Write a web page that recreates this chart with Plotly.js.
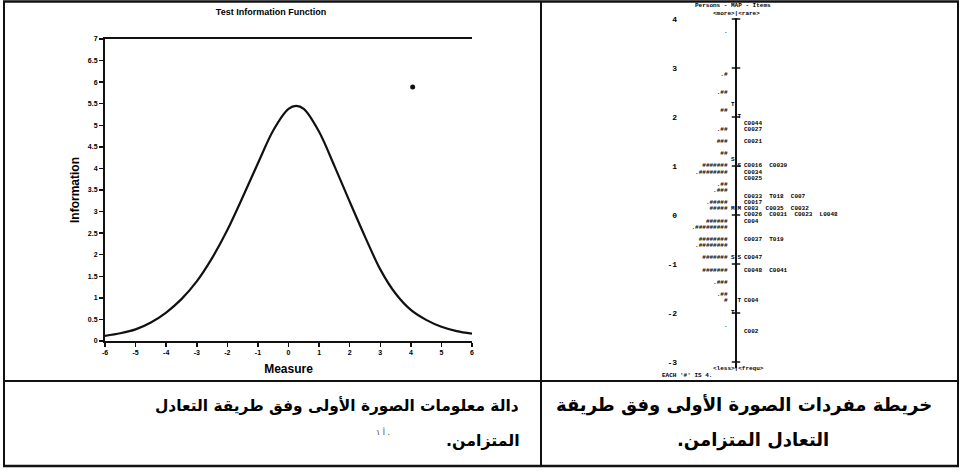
<!DOCTYPE html>
<html><head><meta charset="utf-8">
<script src="https://cdn.plot.ly/plotly-3.0.1.min.js"></script>
<style>html,body{margin:0;padding:0;background:#fff;}#chart{width:963px;height:474px;}</style>
</head><body><div id="chart"></div>
<script>
// ---- Test Information Function (left) ----
const measure = [-6,-5.5,-5,-4.5,-4,-3.5,-3,-2.5,-2,-1.5,-1,-0.5,0,0.25,0.5,1,1.5,2,2.5,3,3.5,4,4.5,5,5.5,6];
const information = [0.12,0.18,0.27,0.43,0.66,0.97,1.38,1.92,2.57,3.33,4.12,4.88,5.38,5.45,5.38,4.85,4.06,3.23,2.42,1.66,1.1,0.72,0.49,0.33,0.23,0.17];
const strayMeasure = [4.06];
const strayInformation = [5.89];
const measureTicks = [-6,-5,-4,-3,-2,-1,0,1,2,3,4,5,6];
const infoTicks = [0,0.5,1,1.5,2,2.5,3,3.5,4,4.5,5,5.5,6,6.5,7];
const infoTickText = ['0','0.5','1','1.5','2','2.5','3','3.5','4','4.5','5','5.5','6','6.5','7'];

// ---- Person-item map (right) ----
const mapTicks = [4,3,2,1,0,-1,-2,-3];
const personLogits = [3.75,2.875,2.5,2.125,1.75,1.5,1.25,1.0,0.875,0.625,0.5,0.25,0.125,-0.125,-0.25,-0.5,-0.625,-0.875,-1.125,-1.375,-1.625,-1.75,-2.25];
const personBars = ['.','.#','.##','##','.##','###','##','#######','.########','.##','.###','.#####','#####','######','.#########','########','.########','#######','#######','.###','.##','#','.'];
const itemLogits = [1.875,1.75,1.5,1.0,0.875,0.75,0.375,0.25,0.125,0,-0.125,-0.5,-0.875,-1.125,-1.75,-2.375];
const itemLabels = ['C0044','C0027','C0021','C0016  C0039','C0034','C0025','C0033  T018  C007','C0017','C003  C0035  C0032','C0026  C0031  C0023  L0048','C004','C0037  T019','C0047','C0048  C0041','C004','C002'];
const personMarkLogits = [2.25,1.125,0.125,-0.875,-2.0];
const personMarkLabels = ['T','S','M','S','T'];
const itemMarkLogits = [2.0,1.0,0.125,-0.875,-1.75];
const itemMarkLabels = ['T','S','M','S','T'];

const captionLeft1 = 'دالة معلومات الصورة الأولى وفق طريقة التعادل';
const captionLeft2 = 'المتزامن.\u200F';
const captionRight1 = 'خريطة مفردات الصورة الأولى وفق طريقة';
const captionRight2 = 'التعادل المتزامن.\u200F';

const W = 963, H = 474;
const px = x => x / W;
const py = y => 1 - y / H;
const mono = {family:'Liberation Mono, DejaVu Sans Mono, monospace', size:6, color:'#000', weight:'bold'};

const traces = [
  {x: measure, y: information, type:'scatter', mode:'lines', line:{color:'#111', width:2.2, shape:'spline', smoothing:0.9}, xaxis:'x', yaxis:'y', hoverinfo:'none'},
  {x: strayMeasure, y: strayInformation, type:'scatter', mode:'markers', marker:{color:'#111', size:5}, xaxis:'x', yaxis:'y', hoverinfo:'none'},
  {x:[0,0], y:[Math.min(...mapTicks)-0.13, Math.max(...mapTicks)+0.02], type:'scatter', mode:'lines', line:{color:'#111', width:2}, xaxis:'x2', yaxis:'y2', hoverinfo:'none'},
  {x: mapTicks.map(()=>0), y: mapTicks, type:'scatter', mode:'markers', marker:{symbol:'line-ew', size:6, line:{color:'#111', width:1.5}}, xaxis:'x2', yaxis:'y2', hoverinfo:'none'},
  {x: personLogits.map(()=>-8.5), y: personLogits, text: personBars, type:'scatter', mode:'text', textposition:'middle left', textfont: mono, xaxis:'x2', yaxis:'y2', hoverinfo:'none'},
  {x: itemLogits.map(()=>8), y: itemLogits, text: itemLabels, type:'scatter', mode:'text', textposition:'middle right', textfont: mono, xaxis:'x2', yaxis:'y2', hoverinfo:'none'},
  {x: personMarkLogits.map(()=>-1.5), y: personMarkLogits, text: personMarkLabels, type:'scatter', mode:'text', textposition:'middle left', textfont: mono, xaxis:'x2', yaxis:'y2', hoverinfo:'none'},
  {x: itemMarkLogits.map(()=>1.5), y: itemMarkLogits, text: itemMarkLabels, type:'scatter', mode:'text', textposition:'middle right', textfont: mono, xaxis:'x2', yaxis:'y2', hoverinfo:'none'}
];

function hline(y, x0, x1, w){ return {type:'line', xref:'paper', yref:'paper', x0:px(x0), x1:px(x1), y0:py(y), y1:py(y), line:{color:'#111', width:w}}; }
function vline(x, y0, y1, w){ return {type:'line', xref:'paper', yref:'paper', x0:px(x), x1:px(x), y0:py(y0), y1:py(y1), line:{color:'#111', width:w}}; }

const smallFont = {family:'Liberation Sans, Arial, sans-serif', size:7, color:'#000', weight:'bold'};
const arabicFont = s => ({family:'DejaVu Sans, Noto Sans, sans-serif', size:s, color:'#000', weight:'bold'});
const titleFont = {family:'Liberation Sans, Arial, sans-serif', size:12, color:'#000', weight:'bold'};

const layout = {
  width: W, height: H,
  margin:{l:0, r:0, t:0, b:0},
  paper_bgcolor:'#fff', plot_bgcolor:'#fff',
  showlegend:false,
  title:{text:'Test Information Function', x:px(271), y:py(12), xanchor:'center', yanchor:'middle', font:{family:'Liberation Sans, Arial, sans-serif', size:9, color:'#000', weight:'bold'}},
  xaxis:{domain:[px(105), px(472)], range:[-6,6], tickvals:measureTicks, ticktext:measureTicks.map(String), ticks:'outside', ticklen:4, tickwidth:1.5, tickcolor:'#111',
         showline:true, linewidth:2, linecolor:'#111', mirror:true, showgrid:false, zeroline:false, tickfont:smallFont, anchor:'y',
         title:{text:'Measure', font:titleFont, standoff:9}},
  yaxis:{domain:[py(341), py(39)], range:[0,7], tickvals:infoTicks, ticktext:infoTickText, ticks:'outside', ticklen:4, tickwidth:1.5, tickcolor:'#111',
         showline:true, linewidth:2, linecolor:'#111', showgrid:false, zeroline:false, tickfont:smallFont, anchor:'x',
         title:{text:'Information', font:titleFont, standoff:6}},
  xaxis2:{domain:[px(678), px(958)], range:[-58, 222], visible:false, anchor:'y2'},
  yaxis2:{domain:[py(371.8), py(4.3)], range:[-3.2, 4.3], tickvals:mapTicks, ticktext:mapTicks.map(String), ticks:'', showline:false, showgrid:false, zeroline:false,
          tickfont:{family:'Liberation Mono, monospace', size:8, color:'#000', weight:'bold'}, anchor:'x2'},
  shapes:[
    hline(1.5, 3, 959, 2.5), hline(381, 3, 959, 2), hline(466, 3, 959, 2.5),
    vline(4, 1, 466, 2), vline(958, 1, 466, 2), vline(541, 1, 466, 2)
  ],
  annotations:[
    {text:'Persons - MAP - Items', x:px(733), y:py(6), xref:'paper', yref:'paper', showarrow:false, xanchor:'center', yanchor:'middle', font:mono},
    {text:'&lt;more&gt;|&lt;rare&gt;', x:px(736), y:py(13), xref:'paper', yref:'paper', showarrow:false, xanchor:'center', yanchor:'middle', font:mono},
    {text:'&lt;less&gt;|&lt;frequ&gt;', x:px(738), y:py(368), xref:'paper', yref:'paper', showarrow:false, xanchor:'center', yanchor:'middle', font:mono},
    {text:"EACH '#' IS 4.", x:px(660), y:py(375), xref:'paper', yref:'paper', showarrow:false, xanchor:'left', yanchor:'middle', font:mono},
    {text:captionLeft1, x:px(521), y:py(405), xref:'paper', yref:'paper', showarrow:false, xanchor:'right', yanchor:'middle', font:arabicFont(15.4)},
    {text:captionLeft2, x:px(522), y:py(440), xref:'paper', yref:'paper', showarrow:false, xanchor:'right', yanchor:'middle', font:arabicFont(15.8)},
    {text:'أ ١ .', x:px(383), y:py(432), xref:'paper', yref:'paper', showarrow:false, xanchor:'center', yanchor:'middle', font:{family:'DejaVu Sans', size:8, color:'#444'}},
    {text:captionRight1, x:px(744), y:py(405), xref:'paper', yref:'paper', showarrow:false, xanchor:'center', yanchor:'middle', font:arabicFont(18)},
    {text:captionRight2, x:px(753), y:py(440), xref:'paper', yref:'paper', showarrow:false, xanchor:'center', yanchor:'middle', font:arabicFont(18)}
  ]
};

Plotly.newPlot('chart', traces, layout, {staticPlot:true, displayModeBar:false});
</script>
</body></html>
